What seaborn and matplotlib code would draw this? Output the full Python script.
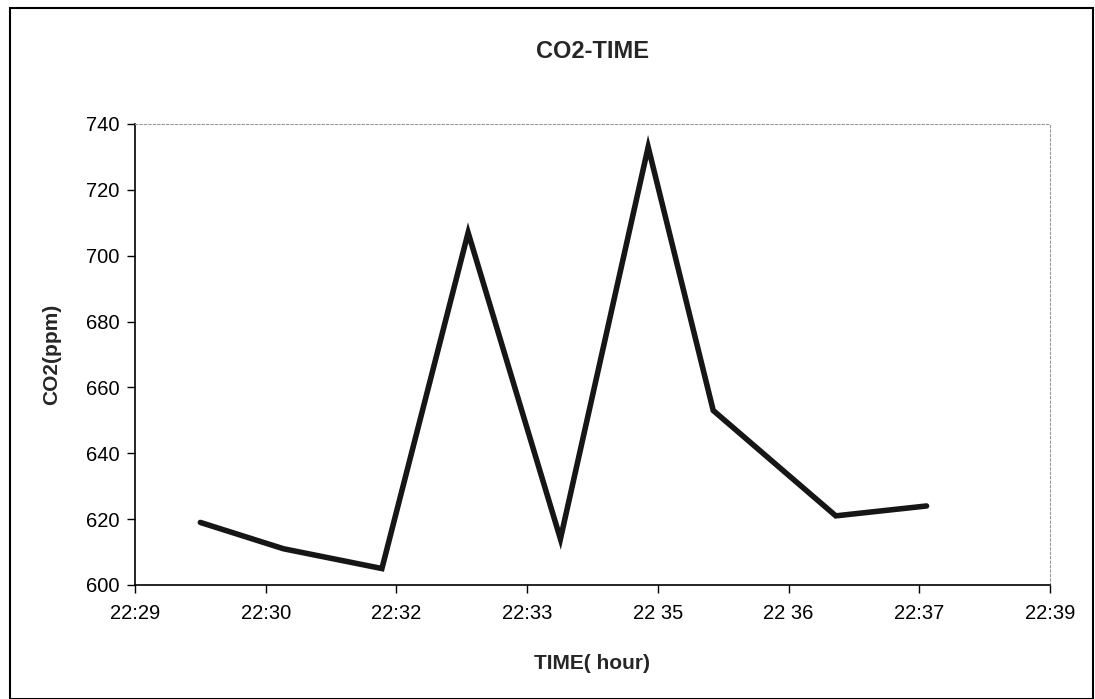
import matplotlib
matplotlib.use("Agg")
import matplotlib.pyplot as plt
import seaborn as sns
import pandas as pd
from matplotlib.patches import Rectangle

# ---- data ----
times = ["22:30:00", "22:30:55", "22:32:00", "22:32:57", "22:33:58",
         "22:34:56", "22:35:39", "22:37:00", "22:38:00"]
co2 = [619, 611, 605, 707, 614, 733, 653, 621, 624]
tick_days = [0.937, 0.938, 0.939, 0.940, 0.941, 0.942, 0.943, 0.944]
tick_labels = ["22:29", "22:30", "22:32", "22:33", "22 35", "22 36", "22:37", "22:39"]
y_ticks = [600, 620, 640, 660, 680, 700, 720, 740]
title = "CO2-TIME"
x_label = "TIME( hour)"
y_label = "CO2(ppm)"


def to_sec(t):
    h, m, s = (int(v) for v in t.split(":"))
    return h * 3600 + m * 60 + s


df = pd.DataFrame({"t": [to_sec(t) for t in times], "co2": co2})
tick_pos = [d * 86400 for d in tick_days]

sns.set_theme(style="white")
plt.rcParams["font.family"] = ["Liberation Sans", "DejaVu Sans"]

fig = plt.figure(figsize=(10.95, 6.99), dpi=100)
ax = fig.add_axes([135 / 1095, 1 - 585 / 699, (1050 - 135) / 1095, (585 - 124) / 699])

sns.lineplot(data=df, x="t", y="co2", ax=ax, color="#161616", linewidth=4.0,
             solid_joinstyle="miter")

ax.set_xlim(tick_pos[0], tick_pos[-1])
ax.set_ylim(y_ticks[0], y_ticks[-1])
ax.set_xticks(tick_pos)
ax.set_xticklabels(tick_labels)
ax.set_yticks(y_ticks)
ax.tick_params(axis="both", direction="out", length=6, width=1, color="black",
               labelsize=14.5, labelcolor="black", pad=5,
               bottom=True, left=True)
ax.tick_params(axis="x", pad=8)

for side in ["left", "bottom"]:
    ax.spines[side].set_color("black")
    ax.spines[side].set_linewidth(1.2)
for side in ["top", "right"]:
    ax.spines[side].set_color("#999999")
    ax.spines[side].set_linewidth(0.8)
    ax.spines[side].set_linestyle((0, (2, 2)))

ax.set_xlabel(x_label, fontsize=15, fontweight="bold", labelpad=22)
ax.set_ylabel(y_label, fontsize=15, fontweight="bold", labelpad=18)
fig.text(0.5 * (135 + 1050) / 1095, 1 - 52 / 699, title, ha="center", va="center",
         fontsize=17, fontweight="bold")

fig.patches.append(Rectangle((10 / 1095, 0.0), (1093 - 10) / 1095, 1 - 8 / 699,
                             transform=fig.transFigure, fill=False,
                             edgecolor="black", linewidth=1.5))

fig.savefig("out.png", dpi=100)
